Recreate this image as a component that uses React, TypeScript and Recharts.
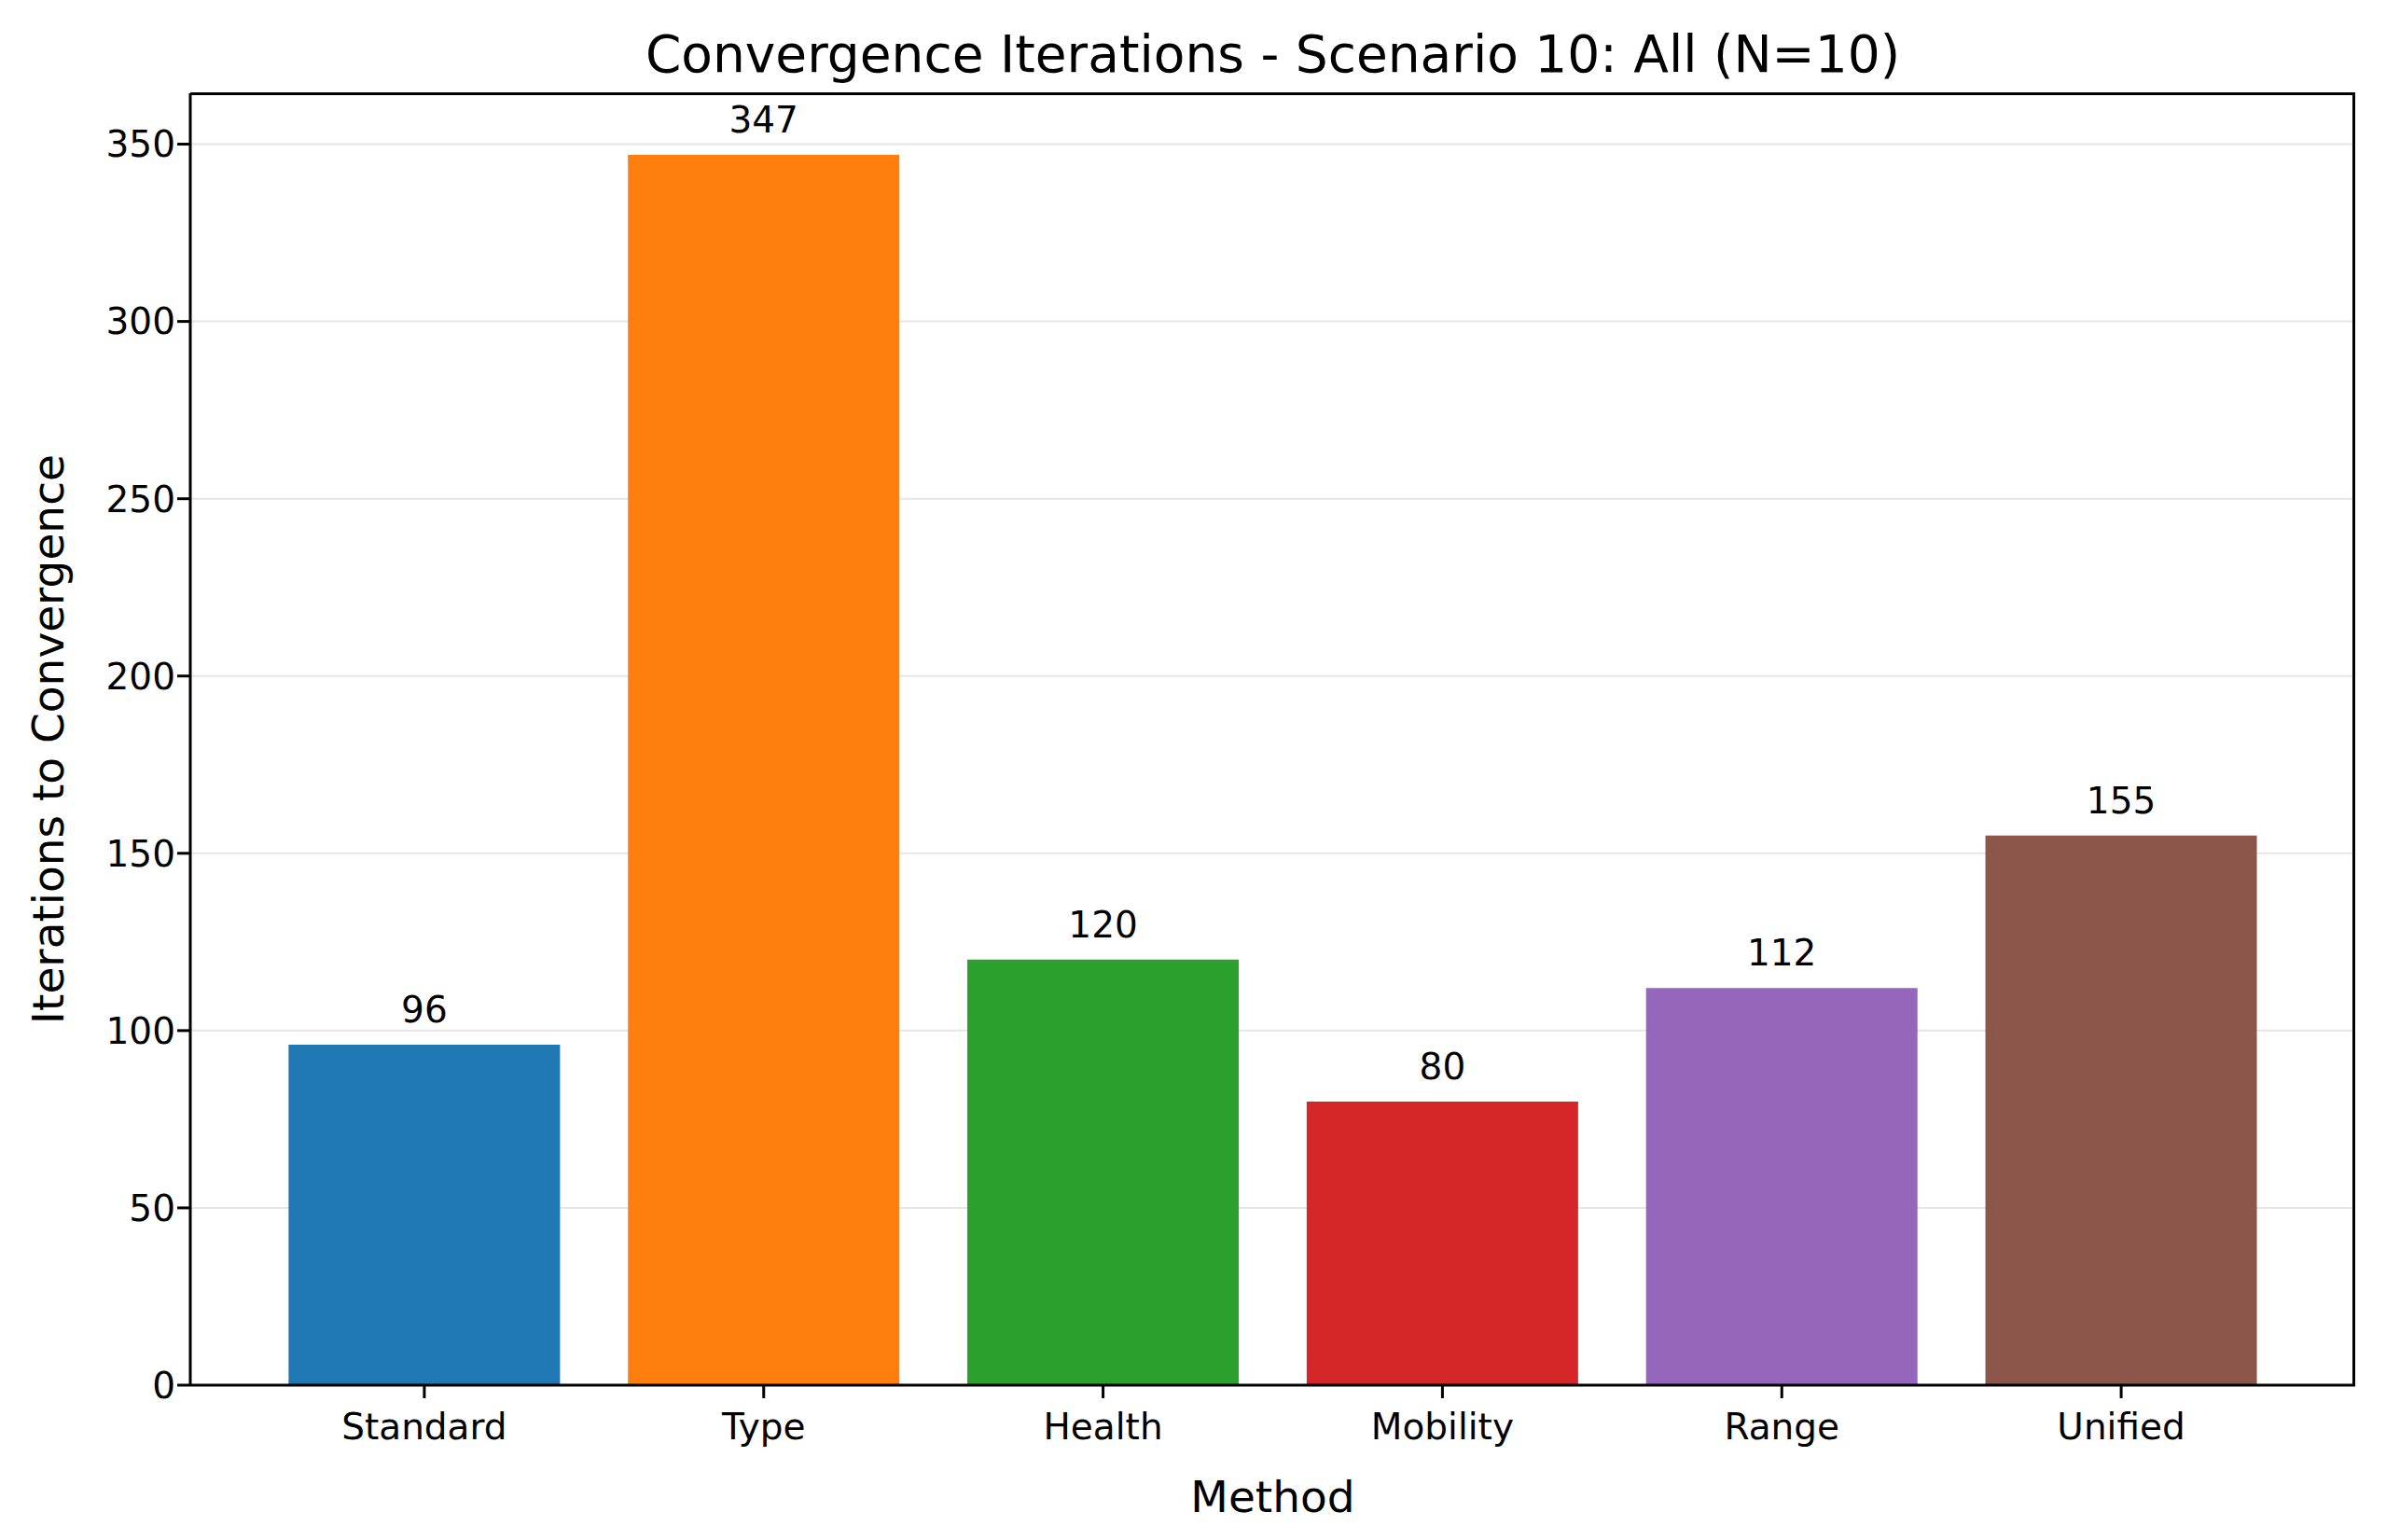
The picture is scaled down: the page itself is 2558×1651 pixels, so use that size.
import React from "react";
import { BarChart, Bar, XAxis, YAxis, CartesianGrid, Cell, LabelList } from "recharts";

const methods = ["Standard", "Type", "Health", "Mobility", "Range", "Unified"];
const iterations = [96, 347, 120, 80, 112, 155];
const colors = ["#1f77b4", "#ff7f0e", "#2ca02c", "#d62728", "#9467bd", "#8c564b"];
const yTicks = [0, 50, 100, 150, 200, 250, 300, 350];

const data = methods.map((m, i) => ({ method: m, value: iterations[i] }));

const W = 2542, H = 1635;
const L = 196, T = 92, R = 25, B = 158;
const font = "DejaVu Sans";

export default function App() {
  return (
    <div style={{ position: "relative", width: W, height: H, fontFamily: font }}>
      <BarChart width={W} height={H} data={data} margin={{ top: T, right: R, bottom: 0, left: 0 }} barCategoryGap="10%">
        <CartesianGrid vertical={false} stroke="#e6e6e6" strokeWidth={2} />
        <XAxis
          dataKey="method"
          padding={{ left: 69, right: 69 }}
          tick={{ fill: "#000", fontSize: 39, fontFamily: font, dy: 14 }}
          tickSize={14}
          tickLine={{ stroke: "#000", strokeWidth: 3 }}
          axisLine={{ stroke: "#000", strokeWidth: 3 }}
          label={{ value: "Method", position: "insideBottom", offset: 0, dy: -22, fontSize: 47, fill: "#000", fontFamily: font }}
          height={B}
        />
        <YAxis
          width={L}
          domain={[0, 364.35]}
          ticks={yTicks}
          allowDataOverflow
          tick={{ fill: "#000", fontSize: 39, fontFamily: font }}
          tickSize={14}
          tickLine={{ stroke: "#000", strokeWidth: 3 }}
          axisLine={{ stroke: "#000", strokeWidth: 3 }}
          label={{ value: "Iterations to Convergence", angle: -90, position: "insideLeft", dx: 38, dy: 0, fontSize: 47, fill: "#000", fontFamily: font, style: { textAnchor: "middle" } }}
        />
        <Bar dataKey="value" isAnimationActive={false}>
          {data.map((d, i) => (
            <Cell key={d.method} fill={colors[i]} />
          ))}
          <LabelList dataKey="value" position="top" offset={24} fill="#000" fontSize={39} fontFamily={font} />
        </Bar>
      </BarChart>
      <div style={{ position: "absolute", left: L, top: T - 1, width: W - L - R, height: H - T - B + 2, borderTop: "3px solid #000", borderRight: "3px solid #000", boxSizing: "border-box", pointerEvents: "none" }} />
      <div style={{ position: "absolute", left: L, width: W - L - R, top: 18, textAlign: "center", fontSize: 55, fontFamily: font, color: "#000", lineHeight: "64px" }}>
        Convergence Iterations - Scenario 10: All (N=10)
      </div>
    </div>
  );
}
